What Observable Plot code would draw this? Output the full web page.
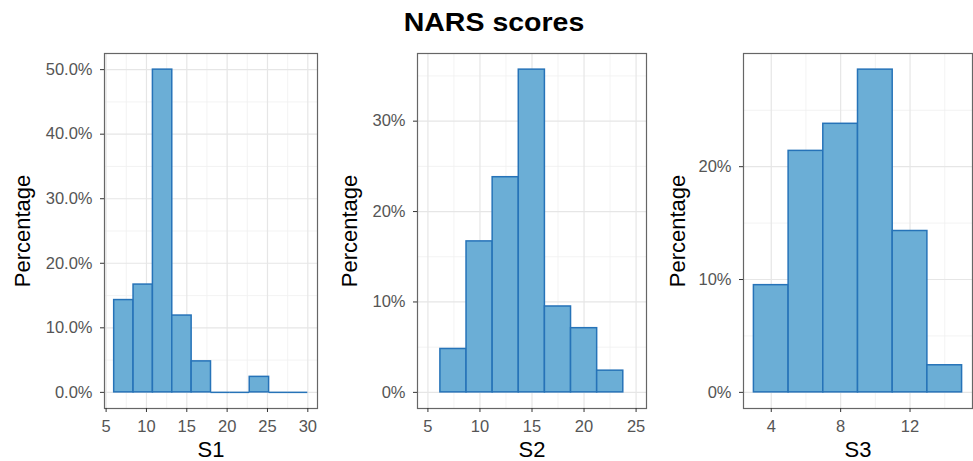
<!DOCTYPE html>
<html>
<head>
<meta charset="utf-8">
<script src="https://cdn.jsdelivr.net/npm/d3@7"></script>
<script src="https://cdn.jsdelivr.net/npm/@observablehq/plot@0.6"></script>
<style>
  body { margin: 0; background: #fff; font-family: "Liberation Sans", Arial, sans-serif; }
  #wrap { position: relative; width: 973px; height: 461px; overflow: hidden; }
  #title { position: absolute; top: 10px; left: 494px; transform: translateX(-50%) scaleX(1.14);
           font-size: 25px; line-height: 25px; font-weight: bold; color: #000; white-space: nowrap; }
  .panel { position: absolute; top: 40px; }
  .panel svg { overflow: visible; }
  g[aria-label="x-axis label"], g[aria-label="y-axis label"] { fill: #000; font-size: 22px; }
</style>
</head>
<body>
<div id="wrap">
  <div id="title">NARS scores</div>
  <div class="panel" id="p1" style="left:0px"></div>
  <div class="panel" id="p2" style="left:330px"></div>
  <div class="panel" id="p3" style="left:660px"></div>
</div>
<script>
// bin edges and percentage of respondents per bin
const s1Edges = [6, 8.4, 10.8, 13.2, 15.6, 18, 20.4, 22.8, 25.2, 27.6, 30]
const s1Pct = [14.3, 16.7, 50.0, 11.9, 4.8, 0, 0, 2.4, 0, 0]

const s2Edges = [6.2, 8.71, 11.22, 13.73, 16.24, 18.75, 21.26, 23.77]
const s2Pct = [4.8, 16.7, 23.8, 35.7, 9.5, 7.1, 2.4]

const s3Edges = [3, 5, 7, 9, 11, 13, 15]
const s3Pct = [9.5, 21.4, 23.8, 28.6, 14.3, 2.4]

// tick values
const s1XTicks = [5, 10, 15, 20, 25, 30]
const s1YTicks = [0, 10, 20, 30, 40, 50]
const s2XTicks = [5, 10, 15, 20, 25]
const s2YTicks = [0, 10, 20, 30]
const s3XTicks = [4, 8, 12]
const s3YTicks = [0, 10, 20]

// minor grid lines (ggplot puts them halfway between the majors)
const s1XMinor = [7.5, 12.5, 17.5, 22.5, 27.5]
const s1YMinor = [5, 15, 25, 35, 45]
const s2XMinor = [7.5, 12.5, 17.5, 22.5]
const s2YMinor = [5, 15, 25, 35]
const s3XMinor = [6, 10, 14]
const s3YMinor = [5, 15, 25]

function histPanel(cfg){
    let bins = cfg.pct.map((p, i) => ({x1: cfg.edges[i], x2: cfg.edges[i+1], pct: p}))
    let empty = bins.filter(d => d.pct === 0)
    let ymax = d3.max(cfg.pct)

    let chart = Plot.plot({
        width: cfg.width,
        height: 421,
        marginTop: 13,
        marginBottom: 53,
        marginLeft: cfg.marginLeft,
        marginRight: cfg.marginRight,
        x: {domain: cfg.xDomain},
        y: {domain: [-0.05*ymax, 1.05*ymax]},
        style: {fontFamily: '"Liberation Sans", Arial, sans-serif', fontSize: 16.5, background: "white"},
        marks: [
            Plot.gridX(cfg.xMinor, {stroke: "#f0f0f0", strokeOpacity: 1, strokeWidth: 0.8}),
            Plot.gridY(cfg.yMinor, {stroke: "#f0f0f0", strokeOpacity: 1, strokeWidth: 0.8}),
            Plot.gridX(cfg.xTicks, {stroke: "#e6e6e6", strokeOpacity: 1, strokeWidth: 1.2}),
            Plot.gridY(cfg.yTicks, {stroke: "#e6e6e6", strokeOpacity: 1, strokeWidth: 1.2}),
            Plot.rectY(bins, {x1: "x1", x2: "x2", y: "pct", fill: "#6baed6", stroke: "#2673b8", strokeWidth: 1.5}),
            // empty bins still get their outline along the baseline
            Plot.ruleY(empty, {x1: "x1", x2: "x2", y: "pct", stroke: "#2673b8", strokeWidth: 1.5}),
            Plot.frame({stroke: "#666", strokeWidth: 1.2}),
            Plot.axisX(cfg.xTicks, {
                tickSize: 4, tickPadding: 8, stroke: "#333", fill: "#555",
                label: cfg.xLabel, labelAnchor: "center", labelOffset: 48, labelArrow: "none"
            }),
            Plot.axisY(cfg.yTicks, {
                tickSize: 4, tickPadding: 8, stroke: "#333", fill: "#555",
                tickFormat: cfg.yFormat,
                label: "Percentage", labelAnchor: "center", labelOffset: cfg.labelOffset, labelArrow: "none"
            })
        ]
    })
    d3.select(cfg.id).append(() => chart)
}

histPanel({
    id: "#p1", width: 330, marginLeft: 104, marginRight: 13,
    edges: s1Edges, pct: s1Pct, xDomain: [4.8, 31.2],
    xTicks: s1XTicks, yTicks: s1YTicks, xMinor: s1XMinor, yMinor: s1YMinor,
    yFormat: d => d.toFixed(1) + "%", xLabel: "S1", labelOffset: 90
})

histPanel({
    id: "#p2", width: 330, marginLeft: 87, marginRight: 14,
    edges: s2Edges, pct: s2Pct, xDomain: [4, 26],
    xTicks: s2XTicks, yTicks: s2YTicks, xMinor: s2XMinor, yMinor: s2YMinor,
    yFormat: d => d + "%", xLabel: "S2", labelOffset: 76
})

histPanel({
    id: "#p3", width: 313, marginLeft: 83, marginRight: 1,
    edges: s3Edges, pct: s3Pct, xDomain: [2.4, 15.6],
    xTicks: s3XTicks, yTicks: s3YTicks, xMinor: s3XMinor, yMinor: s3YMinor,
    yFormat: d => d + "%", xLabel: "S3", labelOffset: 74
})
</script>
</body>
</html>
